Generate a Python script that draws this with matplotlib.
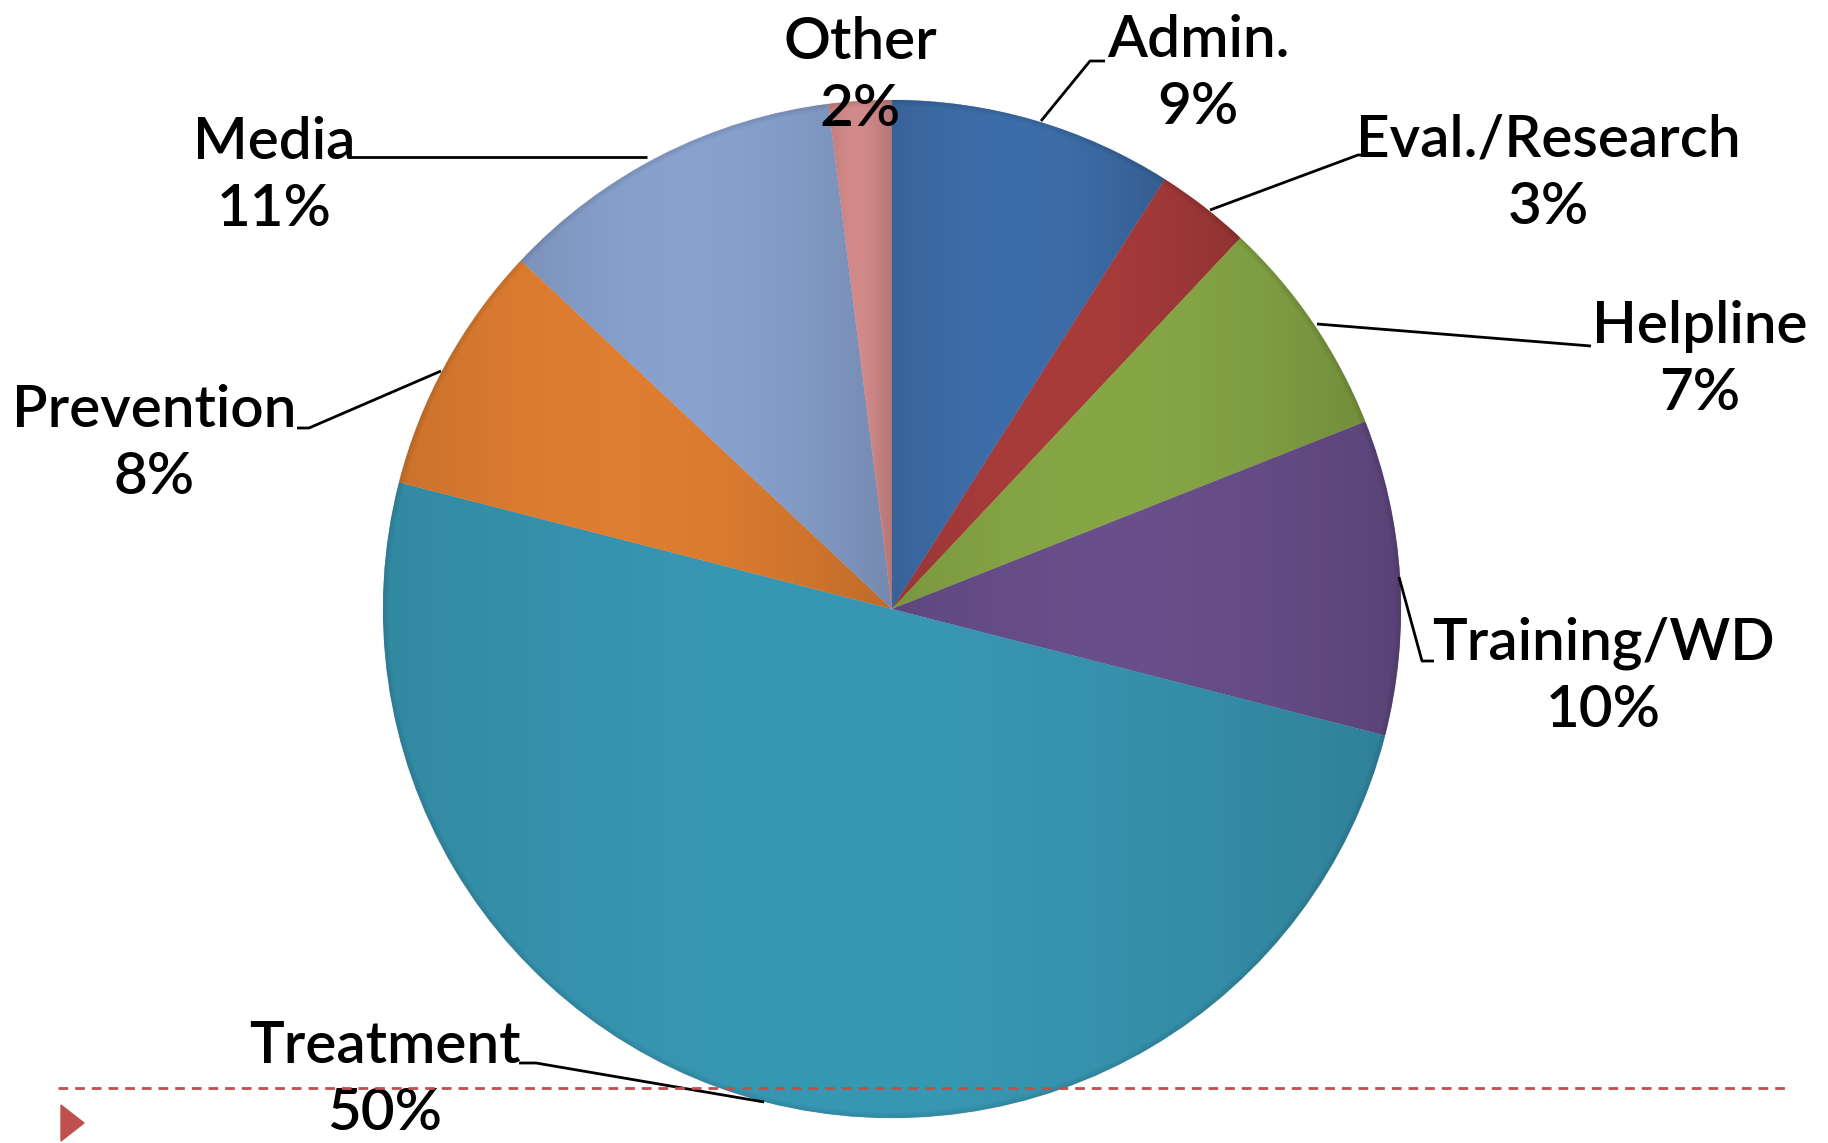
import numpy as np
import matplotlib.pyplot as plt
from matplotlib.colors import to_rgb

W, H = 1828, 1143

labels = ["Admin.", "Eval./Research", "Helpline", "Training/WD",
          "Treatment", "Prevention", "Media", "Other"]
shares = [9, 3, 7, 10, 50, 8, 11, 2]
colors = ["#3e6eaa", "#a93c3b", "#87a746", "#694f8b",
          "#3898b4", "#e07e31", "#89a2cf", "#d38a8a"]

plt.rcParams['font.family'] = ['Lato', 'DejaVu Sans']

fig = plt.figure(figsize=(W / 100, H / 100), dpi=100)
ax = fig.add_axes([0, 0, 1, 1])


def py(y):
	# pixel row (from top) -> data y
	return H - y


cx, cy, R = 892, py(609), 509

wedges, _ = ax.pie(shares, colors=colors, startangle=90, counterclock=False,
                   radius=R, center=(cx, cy), frame=True,
                   wedgeprops=dict(linewidth=1.2, edgecolor=(1, 1, 1, 0.25)))
ax.set_xlim(0, W)
ax.set_ylim(0, H)
ax.set_aspect('equal')
ax.axis('off')

# office style shading: each slice darker at left of its box, bright in the middle
for w, c in zip(wedges, colors):
	bb = w.get_path().get_extents(w.get_transform() + ax.transData.inverted())
	t = np.linspace(0, 1, 200)
	f = 0.88 + 0.13 * np.sin(np.pi * np.clip(t * 0.95 + 0.05, 0, 1)) - 0.03 * t
	base = np.array(to_rgb(c))
	img = np.clip(base[None, None, :] * f[None, :, None], 0, 1)
	img = np.repeat(img, 2, axis=0)
	im = ax.imshow(img, extent=(bb.x0, bb.x1, bb.y0, bb.y1), aspect='auto',
	               interpolation='bilinear', zorder=1.5)
	im.set_clip_path(w)
ax.set_xlim(0, W)
ax.set_ylim(0, H)

# soft rim on the pie
for k in range(6):
	circ = plt.Circle((cx, cy), R - k, fill=False, lw=1.2,
	                  color=(0, 0, 0, 0.06 * (6 - k) / 6), zorder=2)
	ax.add_patch(circ)

txt = dict(fontsize=42, fontweight='semibold', ha='center', va='center',
           color='black', linespacing=1.33, zorder=4)
lab_pos = [(1198, 74), (1548, 174), (1700, 360), (1603, 677),
           (385, 1080), (154, 444), (274, 176), (860, 76)]
for lab, v, (x, y) in zip(labels, shares, lab_pos):
	ax.text(x, py(y), f"{lab}\n{v}%", **txt)

leaders = [
	[(1041, 121), (1090, 61), (1105, 61)],
	[(1210, 210), (1358, 155), (1366, 155)],
	[(1317, 324), (1591, 346)],
	[(1399, 577), (1422, 661), (1434, 661)],
	[(519, 1063), (536, 1063), (764, 1102)],
	[(297, 428), (309, 428), (441, 371)],
	[(350, 157), (647, 157)],
]
for pts in leaders:
	xs = [p[0] for p in pts]
	ys = [py(p[1]) for p in pts]
	ax.plot(xs, ys, color='black', lw=2, zorder=3, solid_capstyle='butt')

# slide decoration: dashed rule and bullet
ax.plot([58, 1790], [py(1088), py(1088)], color='#c0504d', lw=2,
        dashes=(3.5, 2.5), zorder=5)
ax.fill([61, 61, 84], [py(1105), py(1141), py(1123)], color='#c0504d', zorder=5)

fig.savefig("out.png", dpi=100)
